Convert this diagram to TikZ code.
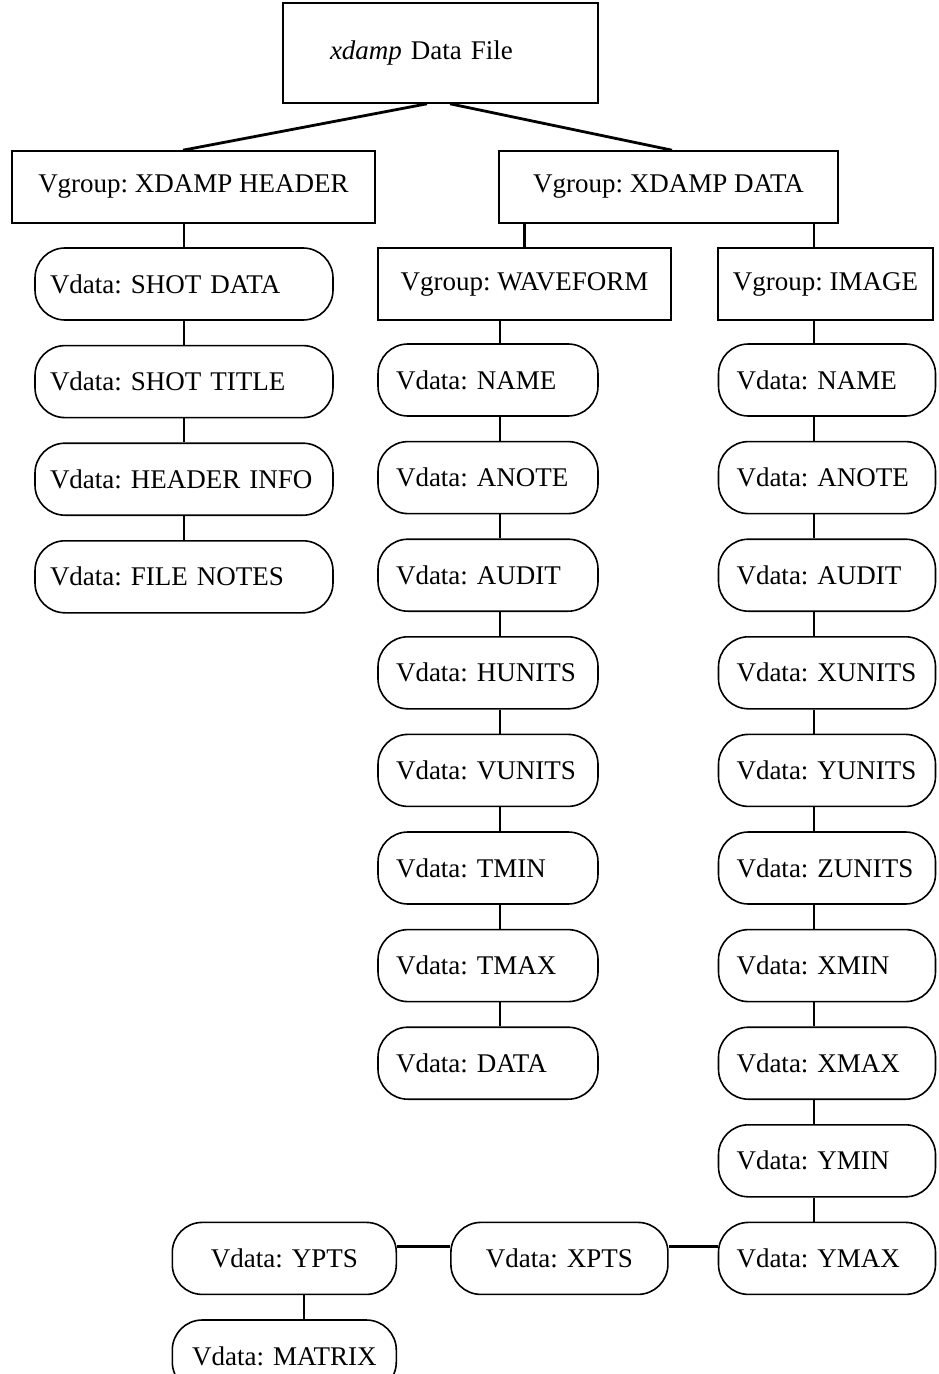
\documentclass[tikz,border=0pt]{standalone}
\usepackage{fontspec}
\setmainfont{Liberation Serif}
\usetikzlibrary{positioning}
\tikzset{%
  vgroup/.style = {rectangle,draw,line width=0.8pt,minimum height=36pt},
  vdata/.style = {rectangle,rounded corners=15pt,draw,line width=0.8pt,
        minimum height=36pt,inner xsep=9pt,text width=#1,align=left},
  link/.style = {line width=1.2pt},
  toplink/.style = {line width=1.4pt},
  sidelink/.style = {line width=1.8pt}
}

\begin{document}
\begin{tikzpicture}[x=0.5pt,y=-0.5pt,node distance=12pt and 12pt]\fontsize{13.5pt}{16pt}\selectfont\frenchspacing
   \useasboundingbox (0,0) rectangle (938,1374);

   % groups
   \node[vgroup,minimum width=157.5pt,minimum height=50pt,text width=110.5pt,
         inner xsep=23.5pt,align=left] (file) at (440.5,53) {\textit{xdamp} Data File};
   \node[vgroup,minimum width=181.5pt] (hdr) at (193.5,187) {Vgroup: XDAMP HEADER};
   \node[vgroup,minimum width=169.5pt] (dat) at (668.5,187) {Vgroup: XDAMP DATA};
   \node[vgroup,minimum width=146.5pt] (wform) at (524.5,284) {Vgroup: WAVEFORM};
   \node[vgroup,minimum width=107.5pt] (img) at (825.5,284) {Vgroup: IMAGE};

   % header column
   \node[vdata=134pt,inner xsep=7.5pt] (shotdata) at (184,284) {Vdata: SHOT DATA};
   \node[vdata=134pt,inner xsep=7.5pt] (shottitle) [below=of shotdata] {Vdata: SHOT TITLE};
   \node[vdata=134pt,inner xsep=7.5pt] (hdrinfo) [below=of shottitle] {Vdata: HEADER INFO};
   \node[vdata=134pt,inner xsep=7.5pt] (filenotes) [below=of hdrinfo] {Vdata: FILE NOTES};

   % waveform column
   \node[vdata=92pt] (wname) at (488,380) {Vdata: NAME};
   \node[vdata=92pt] (wanote) [below=of wname] {Vdata: ANOTE};
   \node[vdata=92pt] (waudit) [below=of wanote] {Vdata: AUDIT};
   \node[vdata=92pt] (whunits) [below=of waudit] {Vdata: HUNITS};
   \node[vdata=92pt] (wvunits) [below=of whunits] {Vdata: VUNITS};
   \node[vdata=92pt] (wtmin) [below=of wvunits] {Vdata: TMIN};
   \node[vdata=92pt] (wtmax) [below=of wtmin] {Vdata: TMAX};
   \node[vdata=92pt] (wdata) [below=of wtmax] {Vdata: DATA};

   % image column
   \node[vdata=90.5pt] (iname) at (827,380) {Vdata: NAME};
   \node[vdata=90.5pt] (ianote) [below=of iname] {Vdata: ANOTE};
   \node[vdata=90.5pt] (iaudit) [below=of ianote] {Vdata: AUDIT};
   \node[vdata=90.5pt] (ixunits) [below=of iaudit] {Vdata: XUNITS};
   \node[vdata=90.5pt] (iyunits) [below=of ixunits] {Vdata: YUNITS};
   \node[vdata=90.5pt] (izunits) [below=of iyunits] {Vdata: ZUNITS};
   \node[vdata=90.5pt] (ixmin) [below=of izunits] {Vdata: XMIN};
   \node[vdata=90.5pt] (ixmax) [below=of ixmin] {Vdata: XMAX};
   \node[vdata=90.5pt] (iymin) [below=of ixmax] {Vdata: YMIN};
   \node[vdata=90.5pt] (iymax) [below=of iymin] {Vdata: YMAX};

   % bottom row
   \node[vdata=90.5pt,align=center] (xpts) [left=24.5pt of iymax] {Vdata: XPTS};
   \node[vdata=94pt,align=center] (ypts) [left=26.5pt of xpts] {Vdata: YPTS};
   \node[vdata=94pt,align=center] (matrix) [below=of ypts] {Vdata: MATRIX};

   \coordinate (wline) at (500,0);
   \coordinate (iline) at (814,0);
   \coordinate (mline) at (304,0);

   \draw[toplink] ([xshift=-6.75pt]file.south) -- ([xshift=-5.25pt]hdr.north);
   \draw[toplink] ([xshift=4.75pt]file.south) -- ([xshift=1.75pt]dat.north);

   \draw[link] (hdr.south -| shotdata.north) -- (shotdata.north);
   \draw[link] (shotdata) -- (shottitle);
   \draw[link] (shottitle) -- (hdrinfo);
   \draw[link] (hdrinfo) -- (filenotes);

   \draw[link] (dat.south -| wform.north) -- (wform.north);
   \draw[link] (dat.south -| iline) -- (img.north -| iline);

   \draw[link] (wform.south -| wline) -- (wname.north -| wline);
   \draw[link] (wname.south -| wline) -- (wanote.north -| wline);
   \draw[link] (wanote.south -| wline) -- (waudit.north -| wline);
   \draw[link] (waudit.south -| wline) -- (whunits.north -| wline);
   \draw[link] (whunits.south -| wline) -- (wvunits.north -| wline);
   \draw[link] (wvunits.south -| wline) -- (wtmin.north -| wline);
   \draw[link] (wtmin.south -| wline) -- (wtmax.north -| wline);
   \draw[link] (wtmax.south -| wline) -- (wdata.north -| wline);

   \draw[link] (img.south -| iline) -- (iname.north -| iline);
   \draw[link] (iname.south -| iline) -- (ianote.north -| iline);
   \draw[link] (ianote.south -| iline) -- (iaudit.north -| iline);
   \draw[link] (iaudit.south -| iline) -- (ixunits.north -| iline);
   \draw[link] (ixunits.south -| iline) -- (iyunits.north -| iline);
   \draw[link] (iyunits.south -| iline) -- (izunits.north -| iline);
   \draw[link] (izunits.south -| iline) -- (ixmin.north -| iline);
   \draw[link] (ixmin.south -| iline) -- (ixmax.north -| iline);
   \draw[link] (ixmax.south -| iline) -- (iymin.north -| iline);
   \draw[link] (iymin.south -| iline) -- (iymax.north -| iline);

   \draw[sidelink] ([yshift=6pt]iymax.west) -- ([yshift=6pt]xpts.east);
   \draw[sidelink] ([yshift=6pt]xpts.west) -- ([yshift=6pt]ypts.east);
   \draw[link] (ypts.south -| mline) -- (matrix.north -| mline);
\end{tikzpicture}
\end{document}
